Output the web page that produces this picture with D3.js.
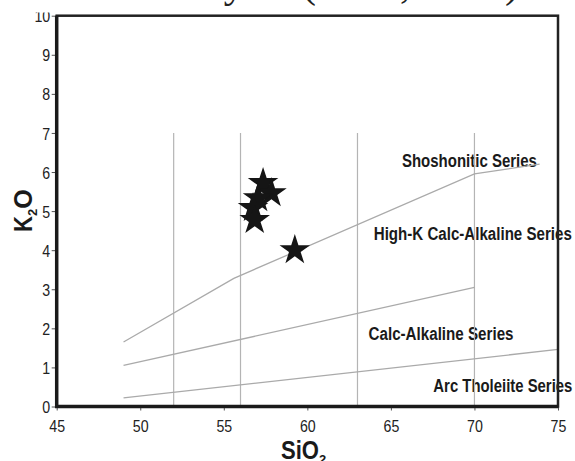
<!DOCTYPE html>
<html>
<head>
<meta charset="utf-8">
<script src="https://cdn.jsdelivr.net/npm/d3@7"></script>
<style>
  body { margin: 0; background: #fff; }
  svg { display: block; }
</style>
</head>
<body>
<div id="chart"></div>
<script>
//////////////////////////// data /////////////////////////////////////////

const xTicks = [45, 50, 55, 60, 65, 70, 75];
const yTicks = [0, 1, 2, 3, 4, 5, 6, 7, 8, 9, 10];

// vertical divisions (basic / intermediate / acid)
const gridSiO2 = [52, 56, 63, 70];
const gridTop = 7;

// series boundaries [SiO2, K2O]
const shoshoniticLine = [[49, 1.65], [55.6, 3.28], [70, 5.95], [73.9, 6.2]];
const highKLine = [[49, 1.05], [70, 3.05]];
const calcAlkLine = [[49, 0.22], [75, 1.46]];

// samples
const sampleSiO2 = [57.35, 57.85, 57.05, 56.75, 56.85, 59.25];
const sampleK2O = [5.72, 5.46, 5.33, 5.08, 4.77, 4.0];

const seriesLabels = [
  { text: "Shoshonitic Series", x: 69.7, y: 6.13, w: 135 },
  { text: "High-K Calc-Alkaline Series", x: 69.9, y: 4.26, w: 198 },
  { text: "Calc-Alkaline Series", x: 68.0, y: 1.70, w: 145 },
  { text: "Arc Tholeiite Series", x: 71.7, y: 0.38, w: 139 }
];

const caption = "after Peccerillo and Taylor (1976, 1989)";

//////////////////////////// sizes ///////////////////////////////////

const width = 575, height = 461;
const margin = { top: 15.7, right: 17, bottom: 54.5, left: 56.7 };
const bw = width - margin.left - margin.right;
const bh = height - margin.top - margin.bottom;

const svg = d3.select("#chart").append("svg")
  .attr("width", width).attr("height", height);

const bounds = svg.append("g")
  .attr("transform", `translate(${margin.left},${margin.top})`);

//////////////////////////// scales ///////////////////////////////////

const x = d3.scaleLinear().domain([45, 75]).range([0, bw]);
const y = d3.scaleLinear().domain([0, 10]).range([bh, 0]);

const sans = "'Liberation Sans', Arial, sans-serif";

//////////////////////////// series labels ////////////////////////////
// drawn first: grid lines and frame run across them in the original

bounds.selectAll(".slabel").data(seriesLabels).enter().append("text")
  .attr("x", d => x(d.x)).attr("y", d => y(d.y))
  .attr("text-anchor", "middle")
  .attr("font-family", sans).attr("font-weight", "bold")
  .attr("font-size", 18).attr("fill", "#1a1a1a")
  .attr("textLength", d => d.w).attr("lengthAdjust", "spacingAndGlyphs")
  .text(d => d.text);

//////////////////////////// grid & lines /////////////////////////////

bounds.selectAll(".grid").data(gridSiO2).enter().append("line")
  .attr("x1", d => x(d)).attr("x2", d => x(d))
  .attr("y1", y(gridTop)).attr("y2", y(0))
  .attr("stroke", "#b4b4b4").attr("stroke-width", 1.2);

const line = d3.line().x(d => x(d[0])).y(d => y(d[1]));

bounds.selectAll(".boundary")
  .data([shoshoniticLine, highKLine, calcAlkLine])
  .enter().append("path")
  .attr("d", line)
  .attr("fill", "none")
  .attr("stroke", "#aaa")
  .attr("stroke-width", 1.3);

//////////////////////////// axes /////////////////////////////////////

// no narrow font installed, so squeeze the digits like Arial Narrow
const narrowDigits = (sel) => sel
  .attr("font-family", sans).attr("font-size", 17).attr("fill", "#222")
  .attr("textLength", d => String(d).length * 7.9)
  .attr("lengthAdjust", "spacingAndGlyphs");

const xAxis = bounds.append("g")
  .attr("transform", `translate(0,${bh})`)
  .call(d3.axisBottom(x).tickValues(xTicks).tickSize(4).tickPadding(9));
xAxis.select(".domain").remove();
xAxis.selectAll("line").attr("stroke", "#555");
xAxis.selectAll("text").call(narrowDigits);

const yAxis = bounds.append("g")
  .call(d3.axisLeft(y).tickValues(yTicks).tickSize(5).tickPadding(1.5));
yAxis.select(".domain").remove();
yAxis.selectAll("line").attr("stroke", "#555");
yAxis.selectAll("text").call(narrowDigits).attr("dy", "0.36em");

// frame
bounds.append("rect")
  .attr("width", bw).attr("height", bh)
  .attr("fill", "none").attr("stroke", "#222").attr("stroke-width", 2.5);
bounds.append("path")
  .attr("d", `M0,0V${bh}H${bw}`)
  .attr("fill", "none").attr("stroke", "#1a1a1a").attr("stroke-width", 3.5);

//////////////////////////// samples //////////////////////////////////

const samples = sampleSiO2.map((s, i) => ({ si: s, k: sampleK2O[i] }));
bounds.selectAll(".star").data(samples).enter().append("path")
  .attr("transform", d => `translate(${x(d.si)},${y(d.k)})`)
  .attr("d", d3.symbol(d3.symbolStar, 290))
  .attr("fill", "#151515");

//////////////////////////// axis titles //////////////////////////////

const xTitle = svg.append("text")
  .attr("x", 281).attr("y", 459)
  .attr("font-family", sans)
  .attr("font-weight", "bold").attr("font-size", 25).attr("fill", "#1a1a1a");
xTitle.append("tspan").attr("textLength", 38)
  .attr("lengthAdjust", "spacingAndGlyphs").text("SiO");
xTitle.append("tspan").attr("font-size", 13).attr("dy", 5).text("2");

const yTitle = svg.append("text")
  .attr("transform", `translate(32,232) rotate(-90)`)
  .attr("font-family", sans)
  .attr("font-weight", "bold").attr("font-size", 25).attr("fill", "#1a1a1a");
yTitle.append("tspan").attr("textLength", 16)
  .attr("lengthAdjust", "spacingAndGlyphs").text("K");
yTitle.append("tspan").attr("font-size", 13).attr("dy", 5).text("2");
yTitle.append("tspan").attr("dy", -5).text("O");

//////////////////////////// cropped caption //////////////////////////
// the picture is cut just under this line, only descenders show

svg.append("rect").attr("x", 0).attr("y", 0)
  .attr("width", width).attr("height", 12.5).attr("fill", "#fff");
const cap = svg.append("text")
  .attr("y", -3)
  .attr("font-family", "'Liberation Serif', 'Times New Roman', serif")
  .attr("font-size", 42).attr("fill", "#222")
  .text(caption);
// line the "(" up with where it sits in the figure
const pIdx = caption.indexOf("(");
const pOff = cap.node().getSubStringLength(0, pIdx);
cap.attr("x", 302 - pOff);
</script>
</body>
</html>
